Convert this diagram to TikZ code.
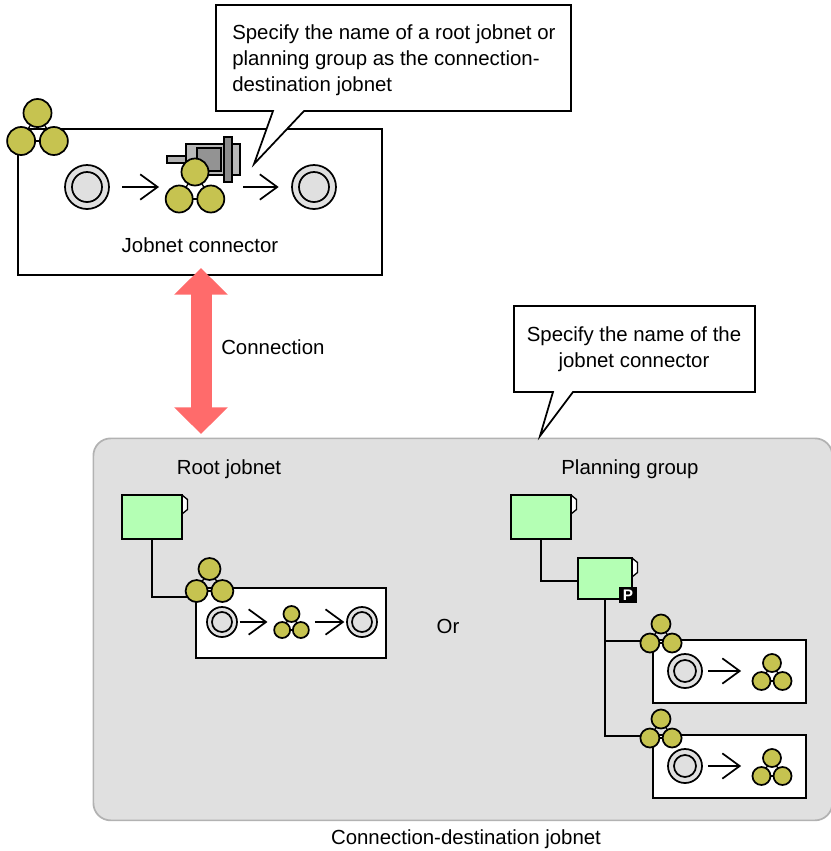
\documentclass[tikz,border=0pt]{standalone}
\usepackage{fontspec}
\setmainfont{Liberation Sans}
\usepackage{tikz}
\usetikzlibrary{arrows.meta}

\definecolor{ballcol}{HTML}{C6C350}
\definecolor{netcol}{HTML}{B4FFB4}
\definecolor{panelcol}{HTML}{E0E0E0}
\definecolor{redcol}{HTML}{FF6B6B}

\tikzset{
  line/.style={draw=black,line width=1.3pt},
  ball/.style={circle,line,fill=ballcol,inner sep=0pt,outer sep=0pt},
  ring/.style={circle,line,fill=panelcol,inner sep=0pt,outer sep=0pt},
  whitebox/.style={line,fill=white,line join=miter},
  netbox/.style={rectangle,line,fill=netcol,inner sep=0pt,outer sep=0pt},
  flow/.style={line,-{Straight Barb[length=13pt,width=19pt,line width=1.3pt]}},
  link/.style={line},
  label/.style={font=\fontsize{15.3pt}{19.8pt}\selectfont,inner sep=0pt}
}

% name, x, y (bottom row), radius
\newcommand{\trio}[4]{
  \node[ball,minimum size=#4*1.5pt] (#1-a) at (#2,#3-2*#4) {};
  \node[ball,minimum size=#4*1.5pt] (#1-b) at (#2-1.17*#4,#3) {};
  \node[ball,minimum size=#4*1.5pt] (#1-c) at (#2+1.17*#4,#3) {};
  \draw[line,line width=1pt] (#1-a) -- (#1-b);
  \draw[line,line width=1pt] (#1-a) -- (#1-c);
  \draw[line,line width=1pt] (#1-b) -- (#1-c);
}
% name, x, y, outer radius, inner radius
\newcommand{\rings}[5]{
  \node[ring,minimum size=#4*1.5pt] (#1) at (#2,#3) {};
  \node[ring,minimum size=#5*1.5pt] (#1-in) at (#2,#3) {};
}
% name, left, top, width, height
\newcommand{\jobnet}[5]{
  \draw[line,line width=1pt,fill=white] (#2+#4,#3) -- ++(5.5,4.5) -- ++(0,10) -- ++(-5.5,4.5);
  \node[netbox,anchor=north west,minimum width=#4*0.75pt,minimum height=#5*0.75pt] (#1) at (#2,#3) {};
}

\begin{document}
\begin{tikzpicture}[x=0.75pt,y=-0.75pt]
\useasboundingbox (0,0) rectangle (831,851);

% top jobnet
\draw[whitebox] (18,129) rectangle (382,275);
\trio{toptrio}{37.5}{141}{14}
\rings{topstart}{87}{187}{22}{15}
\rings{topend}{314}{187}{22}{15}
\node[label] (jobconn) at (200,245) {Jobnet connector};

% plug of the connector
\draw[line,fill=gray!60] (167,156) rectangle (190,163);
\draw[line,fill=gray!55] (186,144) rectangle (240,175);
\draw[line,fill=gray!85] (197,148) rectangle (221,171);
\draw[line,fill=gray!90] (224,137) rectangle (232,182);
\trio{conntrio}{195}{199}{13.5}
\draw[flow,shorten <=10pt,shorten >=5pt] (topstart.east) -- (topstart.east -| conntrio-b.west);
\coordinate (topmid) at (243,187);
\draw[flow,shorten >=10pt] (topmid) -- (topend.west);

% first note
\draw[whitebox] (216,5) -- (571,5) -- (571,111) -- (304,111) -- (254,164) -- (273,111) -- (216,111) -- cycle;
\node[label,anchor=north west,align=left] (note1) at (232,24) {Specify the name of a root jobnet or\\planning group as the connection-\\destination jobnet};

% panel
\node[rectangle,draw=gray!60,line width=1.3pt,fill=panelcol,rounded corners=13pt,minimum width=739*0.75pt,minimum height=382*0.75pt,anchor=north west,inner sep=0pt] (panel) at (92.5,437.5) {};

% double arrow
\coordinate (conntop) at (201,268);
\coordinate (connbot) at (201,434);
\draw[redcol,line width=15.75pt,{Triangle[length=20pt,width=39pt]}-{Triangle[length=20pt,width=39pt]}] (conntop) -- (connbot);
\node[label,anchor=west] (conn) at (221,347) {Connection};

% second note
\draw[whitebox] (514,306) -- (755,306) -- (755,392) -- (573,392) -- (540,436) -- (553,392) -- (514,392) -- cycle;
\node[label,align=center] (note2) at (634,349) {Specify the name of the\\jobnet connector};

\node[label] (rootlabel) at (229,469) {Root jobnet};
\node[label] (planlabel) at (630,469) {Planning group};
\node[label] (orlabel) at (448,626) {Or};
\node[label] (destlabel) at (466,839) {Connection-destination jobnet};

% root jobnet
\jobnet{rootnet}{122}{495}{60}{44}
\draw[whitebox] (196,588) rectangle (386,658);
\trio{roottrio}{209.5}{591}{11}
\draw[link] (rootnet.south) |- (roottrio-b.213);
\rings{rootstart}{222}{622}{15}{10}
\rings{rootend}{362}{622}{15}{10}
\trio{rootmid}{291.5}{630}{8}
\draw[flow,shorten <=2pt,shorten >=5pt] (rootstart.east) -- (rootstart.east -| rootmid-b.west);
\draw[flow,shorten <=4.5pt,shorten >=2pt] (rootstart.east -| rootmid-c.east) -- (rootend.west);

% planning group
\jobnet{groupnet}{511}{495}{60}{44}
\jobnet{plannet}{578}{558}{54}{41}
\node[rectangle,fill=black,text=white,minimum width=18*0.75pt,minimum height=16*0.75pt,inner sep=0pt,font=\fontsize{11.5pt}{11.5pt}\bfseries\selectfont] (pbadge) at (628,595) {P};
\draw[link] (groupnet.south) |- ([yshift=-1.9pt]plannet.west);

\draw[whitebox] (653,640) rectangle (806,703);
\trio{subatrio}{661}{643}{9.5}
\rings{subastart}{685}{671}{17}{11}
\trio{subamid}{772}{681}{9}
\draw[flow,shorten <=4.5pt,shorten >=8.5pt] (subastart.east) -- (subastart.east -| subamid-b.west);

\draw[whitebox] (653,735) rectangle (806,798);
\trio{subbtrio}{661}{738}{9.5}
\rings{subbstart}{685}{766}{17}{11}
\trio{subbmid}{772}{776}{9}
\draw[flow,shorten <=4.5pt,shorten >=8.5pt] (subbstart.east) -- (subbstart.east -| subbmid-b.west);

\draw[link] (plannet.south) |- (subatrio-b.168);
\draw[link] (plannet.south) |- (subbtrio-b.168);
\end{tikzpicture}
\end{document}
